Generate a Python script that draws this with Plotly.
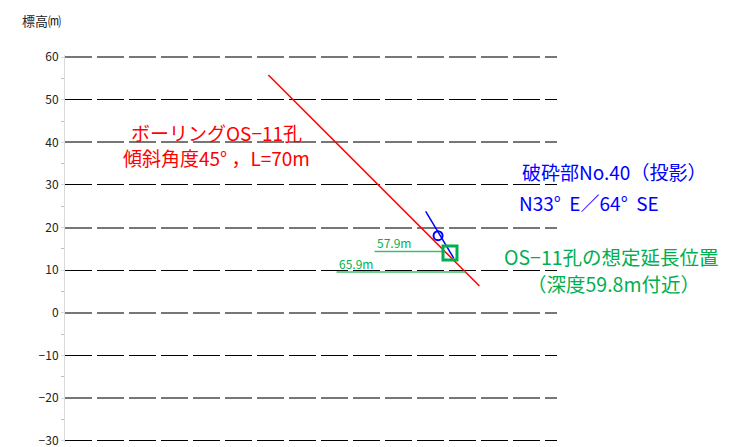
import plotly.graph_objects as go

# --- data (metres) ---
y_ticks = [60, 50, 40, 30, 20, 10, 0, -10, -20, -30]
boring_x = [47.7, 97.2]          # horizontal distance of borehole OS-11 (start, end)
boring_y = [55.8, 6.3]           # elevation of borehole (start, end)
fault_x = [84.6, 91.2]           # fracture zone No.40 projected trace
fault_y = [23.8, 12.8]
fault_pt_x = [87.5]
fault_pt_y = [18.1]
target_x = [90.3]                # assumed extension position (depth 59.8 m)
target_y = [14.06]
depth_labels = ["57.9m", "65.9m"]
depth_line_x = [[72.6, 89.1], [63.7, 93.9]]
depth_line_y = [[14.4, 14.4], [9.6, 9.6]]

RED = "#ff0000"
BLUE = "#0000ff"
GREEN = "#00b050"
FONT = "Noto Sans CJK JP"

fig = go.Figure()

# red borehole on y2 (black-grid overlay axis), the rest on y3 (grey-grid overlay axis)
fig.add_trace(go.Scatter(x=boring_x, y=boring_y, mode="lines", yaxis="y2",
                         line=dict(color=RED, width=1.5), hoverinfo="skip"))
for xs, ys in zip(depth_line_x, depth_line_y):
    fig.add_trace(go.Scatter(x=xs, y=ys, mode="lines", yaxis="y3",
                             line=dict(color="#3cbf6b", width=1.5), hoverinfo="skip"))
fig.add_trace(go.Scatter(x=fault_x, y=fault_y, mode="lines", yaxis="y3",
                         line=dict(color=BLUE, width=1.5), hoverinfo="skip"))
fig.add_trace(go.Scatter(x=fault_pt_x, y=fault_pt_y, mode="markers", yaxis="y3",
                         marker=dict(symbol="circle-open", size=9, color=BLUE,
                                     line=dict(width=2, color=BLUE)), hoverinfo="skip"))
fig.add_trace(go.Scatter(x=target_x, y=target_y, mode="markers", yaxis="y3",
                         marker=dict(symbol="square-open", size=14, color=GREEN,
                                     line=dict(width=3, color=GREEN)), hoverinfo="skip"))

YR = [-30.3, 60.5]
ann = []
def text(x, y, s, color, size, xanchor="center", ref="paper"):
    ann.append(dict(x=x, y=y, xref=ref if ref == "paper" else "x",
                    yref=ref if ref == "paper" else "y", text=s, showarrow=False,
                    xanchor=xanchor, yanchor="middle", align="center",
                    font=dict(family=FONT, size=size, color=color)))

text(0.307, 0.801, "ボーリングOS−11孔", RED, 19)
text(0.307, 0.736, "傾斜角度45° ，L=70m", RED, 19)
text(0.925, 0.698, "破砕部No.40（投影）", BLUE, 19, "left")
text(0.919, 0.620, "N33°  E／64°  SE", BLUE, 19, "left")
text(1.110, 0.479, "OS−11孔の想定延長位置", GREEN, 19.5)
text(1.114, 0.410, "（深度59.8m付近）", GREEN, 19.5)
text(depth_line_x[0][0], 16.5, depth_labels[0], GREEN, 12, "left", ref="data")
text(depth_line_x[1][0], 11.6, depth_labels[1], GREEN, 12, "left", ref="data")
text(-0.0915, 1.090, "標高⒨", "#222222", 13, "left")

fig.update_layout(
    width=729, height=447,
    margin=dict(l=65, r=172, t=55, b=5, autoexpand=False),
    paper_bgcolor="white", plot_bgcolor="white",
    showlegend=False,
    annotations=ann,
    font=dict(family=FONT, size=12, color="#222222"),
    xaxis=dict(range=[0, 115.4], visible=False, automargin=False),
    yaxis=dict(range=YR, tickmode="array", tickvals=y_ticks, automargin=False,
               ticktext=[str(v).replace("-", "−") for v in y_ticks],
               showgrid=False, zeroline=False, ticklabeloverflow="allow",
               showline=True, linecolor="#d9d9d9", linewidth=1,
               ticks="outside", ticklen=3, tickcolor="#d9d9d9",
               minor=dict(dtick=5, ticks="outside", ticklen=3, tickcolor="#bfbfbf"),
               tickfont=dict(family=FONT, size=12, color="#222222")),
    yaxis2=dict(range=YR, overlaying="y", tickmode="linear", tick0=-30, dtick=20,
                showticklabels=False, ticks="", zeroline=False, showline=False,
                automargin=False,
                showgrid=True, gridcolor="#000000", gridwidth=1, griddash="27px,5px"),
    yaxis3=dict(range=YR, overlaying="y", tickmode="linear", tick0=-20, dtick=20,
                showticklabels=False, ticks="", zeroline=False, showline=False,
                automargin=False,
                showgrid=True, gridcolor="#777777", gridwidth=2, griddash="27px,5px"),
)

fig.write_html("out.html", config={"displayModeBar": False},
               post_script="document.body.style.margin='0px';")
